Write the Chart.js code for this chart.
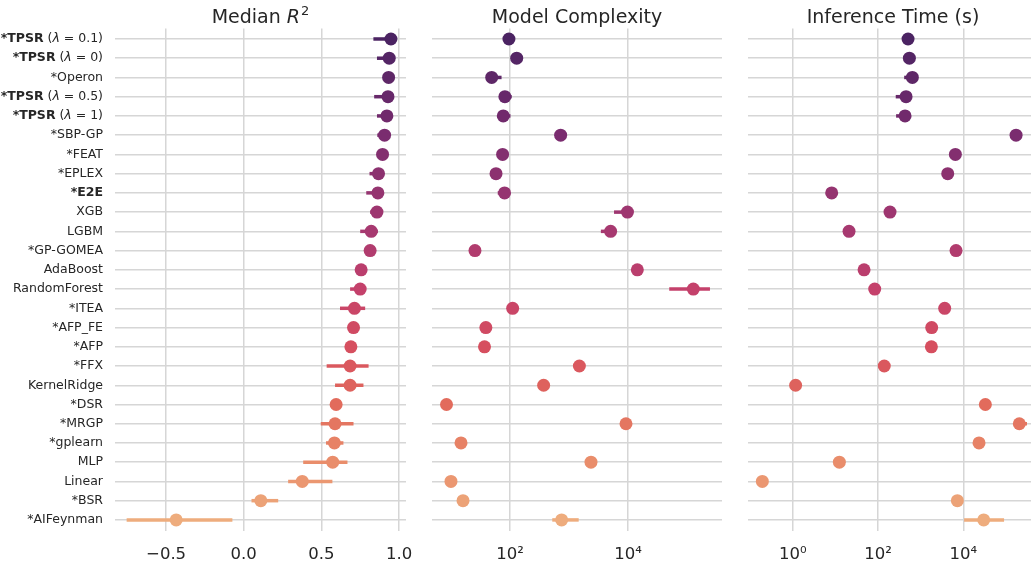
<!DOCTYPE html>
<html>
<head>
<meta charset="utf-8">
<script src="https://cdn.jsdelivr.net/npm/chart.js@4.4.1/dist/chart.umd.min.js"></script>
<style>
  html, body { margin: 0; padding: 0; background: #fff; overflow: hidden; }
  #wrap { position: relative; width: 1031px; height: 563px; overflow: hidden; }
  #wrap canvas { position: absolute; top: 0; }
</style>
</head>
<body>
<div id="wrap">
  <canvas id="c-r2" width="415" height="563" style="left:0"></canvas>
  <canvas id="c-size" width="315" height="563" style="left:415px"></canvas>
  <canvas id="c-time" width="308" height="563" style="left:730px"></canvas>
</div>
<script>
// ---- data ----
const methods = [
  '*TPSR (λ = 0.1)', '*TPSR (λ = 0)', '*Operon', '*TPSR (λ = 0.5)', '*TPSR (λ = 1)',
  '*SBP-GP', '*FEAT', '*EPLEX', '*E2E', 'XGB', 'LGBM', '*GP-GOMEA', 'AdaBoost',
  'RandomForest', '*ITEA', '*AFP_FE', '*AFP', '*FFX', 'KernelRidge', '*DSR', '*MRGP',
  '*gplearn', 'MLP', 'Linear', '*BSR', '*AIFeynman'
];
const boldNames = ['*TPSR', '*E2E'];

const r2Median = [0.948, 0.937, 0.933, 0.929, 0.922, 0.907, 0.894, 0.868, 0.864, 0.858, 0.821, 0.814, 0.756,
                  0.750, 0.713, 0.707, 0.690, 0.685, 0.685, 0.595, 0.588, 0.584, 0.573, 0.377, 0.110, -0.435];
const r2Lo     = [0.835, 0.858, 0.915, 0.840, 0.858, 0.860, 0.875, 0.810, 0.789, 0.814, 0.750, 0.800, 0.735,
                  0.685, 0.620, 0.680, 0.670, 0.534, 0.588, 0.580, 0.496, 0.530, 0.383, 0.286, 0.050, -0.754];
const r2Hi     = [0.960, 0.955, 0.945, 0.945, 0.940, 0.925, 0.910, 0.885, 0.880, 0.875, 0.864, 0.830, 0.775,
                  0.770, 0.782, 0.725, 0.710, 0.804, 0.771, 0.610, 0.707, 0.642, 0.668, 0.571, 0.222, -0.073];

const sizeMedian = [96, 130, 49, 82, 77, 722, 75, 58, 81, 9800, 5080, 25.5, 14400,
                    128000, 111, 39, 37, 1500, 372, 8.4, 9250, 14.8, 2360, 10, 16, 751];
const sizeLo     = [92, 125, 45, 78, 73, 700, 72, 56, 62, 5800, 3470, 24.5, 14000,
                    50000, 108, 38, 36, 1460, 362, 8.2, 9000, 14.4, 2300, 9.7, 15.5, 521];
const sizeHi     = [100, 135, 72, 107, 102, 745, 78, 60, 84, 10200, 5300, 26.5, 14800,
                    245000, 114, 40, 38, 1540, 382, 8.6, 11500, 15.2, 2420, 10.3, 16.5, 1460];

const timeMedian = [505, 543, 638, 454, 430, 172000, 6500, 4300, 8.2, 191, 20.9, 6740, 47,
                    83.6, 3650, 1810, 1780, 140, 1.17, 32800, 205000, 23300, 12.4, 0.194, 7240, 30000];
const timeLo     = [490, 525, 410, 260, 265, 165000, 6300, 4150, 6.0, 185, 20.3, 6500, 45.5,
                    81, 3550, 1750, 1330, 105, 1.13, 31800, 198000, 22600, 12, 0.188, 7000, 10400];
const timeHi     = [520, 560, 660, 470, 445, 180000, 6700, 4450, 8.5, 197, 21.5, 6950, 48.5,
                    86, 3750, 1870, 1840, 145, 1.21, 33800, 310000, 24000, 12.8, 0.2, 7480, 90000];

const r2Ticks   = [-0.5, 0, 0.5, 1.0];
const sizeTicks = [1e2, 1e4];
const timeTicks = [1e0, 1e2, 1e4];

// ---- styling ----
const FONT = "'DejaVu Sans', sans-serif";
const TXT  = '#262626';
const GRID = '#d6d6d6';

// flare-like palette, dark purple at the top to light orange at the bottom
const flareStops = [
  [0.00, [75, 35, 98]], [0.20, [122, 44, 111]], [0.40, [167, 57, 112]], [0.52, [196, 65, 107]],
  [0.64, [214, 79, 95]], [0.76, [226, 107, 92]], [0.88, [233, 141, 107]], [1.00, [238, 172, 125]]
];
function flare(t) {
  let k = 0;
  while (k < flareStops.length - 2 && t > flareStops[k + 1][0]) k++;
  const [t0, a] = flareStops[k], [t1, b] = flareStops[k + 1];
  const f = (t - t0) / (t1 - t0);
  return 'rgb(' + a.map((v, j) => Math.round(v + (b[j] - v) * f)).join(',') + ')';
}
const colors = methods.map((_, i) => flare(i / (methods.length - 1)));

const supMap = {'0': '⁰', '1': '¹', '2': '²', '3': '³', '4': '⁴', '5': '⁵', '6': '⁶'};
const logLabel = v => '10' + String(Math.round(Math.log10(v))).split('').map(c => supMap[c] || c).join('');

// error bars drawn under the points
const errorBars = {
  id: 'errorBars',
  beforeDatasetsDraw(chart, args, opts) {
    const {ctx, scales: {x, y}} = chart;
    ctx.save();
    ctx.lineWidth = 3.5;
    opts.lo.forEach((lo, i) => {
      const py = y.getPixelForValue(i);
      ctx.strokeStyle = colors[i];
      ctx.beginPath();
      ctx.moveTo(x.getPixelForValue(lo), py);
      ctx.lineTo(x.getPixelForValue(opts.hi[i]), py);
      ctx.stroke();
    });
    ctx.restore();
  }
};

// panel title (supports an italic math part with a superscript)
const panelTitle = {
  id: 'panelTitle',
  afterDraw(chart, args, opts) {
    const {ctx, chartArea} = chart;
    const cx = (chartArea.left + chartArea.right) / 2;
    const parts = opts.parts;
    ctx.save();
    ctx.fillStyle = TXT;
    ctx.textBaseline = 'alphabetic';
    const fontFor = p => `${p.italic ? 'italic ' : ''}${p.sup ? 13 : 19}px ${FONT}`;
    let w = 0;
    parts.forEach(p => { ctx.font = fontFor(p); w += ctx.measureText(p.text).width + (p.gap || 0); });
    let x = cx - w / 2;
    parts.forEach(p => {
      ctx.font = fontFor(p);
      x += p.gap || 0;
      ctx.fillText(p.text, x, p.sup ? 15 : 23);
      x += ctx.measureText(p.text).width;
    });
    ctx.restore();
  }
};

// method names on the left, with bold names and an italic λ
const methodLabels = {
  id: 'methodLabels',
  afterDraw(chart) {
    const {ctx, scales: {y}} = chart;
    ctx.save();
    ctx.fillStyle = TXT;
    ctx.textBaseline = 'middle';
    methods.forEach((name, i) => {
      const bold = boldNames.find(b => name.startsWith(b));
      const segs = [];
      if (bold) segs.push({t: bold, f: `bold 12.5px ${FONT}`});
      const rest = bold ? name.slice(bold.length) : name;
      rest.split(/(λ)/).filter(s => s).forEach(s =>
        segs.push({t: s, f: (s === 'λ' ? 'italic ' : '') + `12.5px ${FONT}`}));
      let w = 0;
      segs.forEach(s => { ctx.font = s.f; w += ctx.measureText(s.t).width; });
      let x = 103 - w;
      const py = y.getPixelForValue(i);
      segs.forEach(s => { ctx.font = s.f; ctx.fillText(s.t, x, py); x += ctx.measureText(s.t).width; });
    });
    ctx.restore();
  }
};

function makePanel(id, cfg) {
  return new Chart(document.getElementById(id), {
    type: 'scatter',
    data: {
      datasets: [{
        data: cfg.median.map((v, i) => ({x: v, y: i})),
        pointBackgroundColor: colors,
        pointBorderWidth: 0,
        pointRadius: 6.5,
        pointHoverRadius: 6.5,
      }],
    },
    options: {
      responsive: false, animation: false, events: [],
      // autoPadding off: the point radius must not shrink the plot area
      layout: {autoPadding: false, padding: {left: cfg.padLeft, right: cfg.padRight, top: 28.4, bottom: 0}},
      plugins: {
        legend: {display: false},
        tooltip: {enabled: false},
        errorBars: {lo: cfg.lo, hi: cfg.hi},
        panelTitle: {parts: cfg.title},
      },
      scales: {
        x: {
          type: cfg.type, min: cfg.min, max: cfg.max, bounds: 'data',
          afterBuildTicks: s => { s.ticks = cfg.ticks.map(v => ({value: v})); },
          // fixed axis height, and no extra side padding for the edge labels
          afterFit: s => { s.height = 32.5; s.paddingLeft = 0; s.paddingRight = 0; },
          grid: {color: GRID, lineWidth: 1.5, drawTicks: false},
          border: {display: false},
          ticks: {
            padding: 14.5, color: TXT, font: {family: FONT, size: 16.5},
            maxRotation: 0, autoSkip: false,
            callback: cfg.fmt,
          },
        },
        y: {
          type: 'linear', reverse: true, min: -0.55, max: 25.55,
          afterBuildTicks: s => { s.ticks = methods.map((_, i) => ({value: i})); },
          grid: {color: GRID, lineWidth: 1.5, drawTicks: false},
          border: {display: false},
          ticks: {display: false},
        },
      },
    },
    plugins: cfg.extra ? [errorBars, panelTitle, cfg.extra] : [errorBars, panelTitle],
  });
}

makePanel('c-r2', {
  type: 'linear', min: -0.829, max: 1.045, ticks: r2Ticks,
  median: r2Median, lo: r2Lo, hi: r2Hi, padLeft: 115, padRight: 9,
  fmt: v => (v < 0 ? '\u2212' : '') + Math.abs(v).toFixed(1),
  title: [{text: 'Median '}, {text: 'R', italic: true}, {text: '2', sup: true, gap: 1}],
  extra: methodLabels,
});

makePanel('c-size', {
  type: 'logarithmic', min: 4.77, max: 392000, ticks: sizeTicks,
  median: sizeMedian, lo: sizeLo, hi: sizeHi, padLeft: 17, padRight: 8,
  fmt: logLabel,
  title: [{text: 'Model Complexity'}],
});

// the right panel runs a little past the edge of the picture
makePanel('c-time', {
  type: 'logarithmic', min: 0.0895, max: 562000, ticks: timeTicks,
  median: timeMedian, lo: timeLo, hi: timeHi, padLeft: 18, padRight: 0,
  fmt: logLabel,
  title: [{text: 'Inference Time (s)'}],
});
</script>
</body>
</html>
